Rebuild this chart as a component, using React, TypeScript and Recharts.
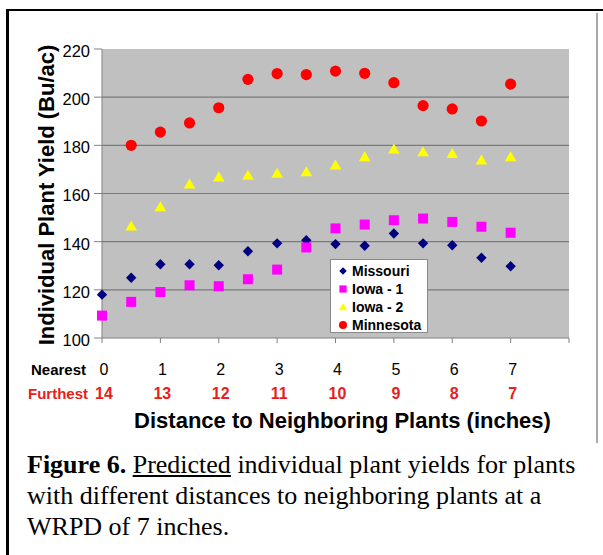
import React from 'react';
import { ScatterChart, Scatter, XAxis, YAxis, CartesianGrid } from 'recharts';

const xMissouri = [0, 0.5, 1, 1.5, 2, 2.5, 3, 3.5, 4, 4.5, 5, 5.5, 6, 6.5, 7];
const missouri = [118, 125, 130.6, 130.6, 130.2, 136, 139.3, 140.6, 139, 138.3, 143.4, 139.3, 138.5, 133.3, 129.8];
const xIowa1 = [0, 0.5, 1, 1.5, 2, 2.5, 3, 3.5, 4, 4.5, 5, 5.5, 6, 6.5, 7];
const iowa1 = [109.3, 115, 119.1, 121.9, 121.5, 124.4, 128.4, 137.6, 145.5, 147.1, 148.9, 149.6, 148.2, 146.2, 143.7];
const xIowa2 = [0.5, 1, 1.5, 2, 2.5, 3, 3.5, 4, 4.5, 5, 5.5, 6, 6.5, 7];
const iowa2 = [146.5, 154.5, 163.9, 166.9, 167.6, 168.4, 169.0, 171.8, 175.3, 178.5, 177.3, 176.6, 173.9, 175.3];
const xMinnesota = [0.5, 1, 1.5, 2, 2.5, 3, 3.5, 4, 4.5, 5, 5.5, 6, 6.5, 7];
const minnesota = [180, 185.5, 189.3, 195.6, 207.4, 209.8, 209.4, 210.8, 209.9, 206, 196.5, 195.1, 190.1, 205.4];

const seriesNames = ['Missouri', 'Iowa - 1', 'Iowa - 2', 'Minnesota'];
const seriesColors = ['#000080', '#FF00FF', '#FFFF00', '#FF0000'];

const xTicks = [0, 1, 2, 3, 4, 5, 6, 7, 8];
const nearestLabels = ['0', '1', '2', '3', '4', '5', '6', '7'];
const furthestLabels = ['14', '13', '12', '11', '10', '9', '8', '7'];
const yTicks = [100, 120, 140, 160, 180, 200, 220];
const gridValues = [120, 140, 160, 180, 200];

const toPoints = (xs: number[], ys: number[]) => xs.map((x, i) => ({ x, y: ys[i] }));

const FONT = 'Arial, "Liberation Sans", sans-serif';
const AXIS = '#808080';
const RED = '#E8201C';

const Diamond = (p: any) => {
  const { cx, cy, fill, k = 1 } = p;
  const r = 5.2 * k;
  return <path d={`M${cx},${cy - r}L${cx + r},${cy}L${cx},${cy + r}L${cx - r},${cy}Z`} fill={fill} />;
};
const Square = (p: any) => {
  const { cx, cy, fill, k = 1 } = p;
  const s = 5 * k;
  return <rect x={cx - s} y={cy - s} width={2 * s} height={2 * s} fill={fill} />;
};
const Triangle = (p: any) => {
  const { cx, cy, fill, k = 1 } = p;
  return <path d={`M${cx},${cy - 5.5 * k}L${cx + 5.8 * k},${cy + 4.5 * k}L${cx - 5.8 * k},${cy + 4.5 * k}Z`} fill={fill} />;
};
const Circle = (p: any) => {
  const { cx, cy, fill, k = 1 } = p;
  return <circle cx={cx} cy={cy} r={5.6 * k} fill={fill} />;
};
const shapes = [Diamond, Square, Triangle, Circle];

const XTick = (props: any) => {
  const { x, y, payload, index } = props;
  const i = payload && typeof payload.index === 'number' ? payload.index : index;
  if (i >= nearestLabels.length) return null;
  return (
    <g>
      {i === 0 && (
        <>
          <text x={x - 16} y={y + 32} textAnchor="end" fontFamily={FONT} fontSize={15} fontWeight="bold" fill="#000">Nearest</text>
          <text x={x - 14} y={y + 56} textAnchor="end" fontFamily={FONT} fontSize={15} fontWeight="bold" fill={RED}>Furthest</text>
        </>
      )}
      <text x={x + 2} y={y + 32} textAnchor="middle" fontFamily={FONT} fontSize={16} fill="#000">{nearestLabels[i]}</text>
      <text x={x + 2} y={y + 56} textAnchor="middle" fontFamily={FONT} fontSize={16} fontWeight="bold" fill={RED}>{furthestLabels[i]}</text>
    </g>
  );
};

const LegendBox = () => (
  <div style={{ width: 96, height: 70, background: '#fff', border: '1px solid #8a8a8a', paddingTop: 2 }}>
    {seriesNames.map((n, i) => {
      const S = shapes[i];
      return (
        <div key={n} style={{ height: 18, display: 'flex', alignItems: 'center' }}>
          <svg width={21} height={18} style={{ display: 'block' }}>
            <S cx={12} cy={9} fill={seriesColors[i]} k={0.72} />
          </svg>
          <span style={{ fontFamily: FONT, fontSize: 14, fontWeight: 'bold', color: '#000', whiteSpace: 'nowrap' }}>{n}</span>
        </div>
      );
    })}
  </div>
);

export default function App() {
  const datasets = [
    toPoints(xMissouri, missouri),
    toPoints(xIowa1, iowa1),
    toPoints(xIowa2, iowa2),
    toPoints(xMinnesota, minnesota),
  ];
  return (
    <div style={{ position: 'absolute', left: 0, top: 0, width: 603, height: 555, background: '#fff', overflow: 'hidden' }}>
      <div style={{ position: 'absolute', left: 6, top: 9, width: 700, height: 700, borderLeft: '3px solid #000', borderTop: '2px solid #000' }} />
      <div style={{ position: 'absolute', left: 596, top: 13, width: 2, height: 430, background: '#a8a8a8' }} />
      <div style={{ position: 'absolute', left: 0, top: 0 }}>
        <ScatterChart width={603} height={445} margin={{ top: 49, right: 34, left: 0, bottom: 0 }}>
          <CartesianGrid horizontal vertical={false} fill="#C0C0C0" stroke="#7a7a7a" strokeWidth={1.2} horizontalValues={gridValues} />
          <XAxis
            type="number"
            dataKey="x"
            domain={[0, 8]}
            ticks={xTicks}
            interval={0}
            height={107}
            stroke={AXIS}
            tickSize={5}
            tickMargin={0}
            tick={<XTick />}
            label={(lp: any) => {
              const vb = lp.viewBox || { x: 102, width: 467, y: 338 };
              return (
                <text x={vb.x + vb.width / 2 + 7} y={428} textAnchor="middle" fontFamily={FONT} fontSize={22} fontWeight="bold" fill="#000">
                  Distance to Neighboring Plants (inches)
                </text>
              );
            }}
          />
          <YAxis
            type="number"
            dataKey="y"
            domain={[100, 220]}
            ticks={yTicks}
            interval={0}
            width={102}
            stroke={AXIS}
            tickSize={8}
            tickMargin={4}
            tick={{ fontFamily: FONT, fontSize: 16.5, fill: '#000', dy: 2 }}
            label={() => (
              <text x={54} y={195} transform="rotate(-90, 54, 195)" textAnchor="middle" fontFamily={FONT} fontSize={22} fontWeight="bold" fill="#000">
                Individual Plant Yield (Bu/ac)
              </text>
            )}
          />
          {datasets.map((d, i) => (
            <Scatter
              key={seriesNames[i]}
              name={seriesNames[i]}
              data={d}
              fill={seriesColors[i]}
              shape={shapes[i]}
              isAnimationActive={false}
            />
          ))}
        </ScatterChart>
      </div>
      <div style={{ position: 'absolute', left: 330, top: 259 }}>
        <LegendBox />
      </div>
      <div
        style={{
          position: 'absolute',
          left: 27,
          top: 449,
          fontFamily: '"Liberation Serif", "Times New Roman", serif',
          fontSize: 26,
          lineHeight: '31px',
          color: '#000',
          whiteSpace: 'nowrap',
        }}
      >
        <div>
          <b>Figure 6.</b> <u>Predicted</u> individual plant yields for plants
        </div>
        <div>with different distances to neighboring plants at a</div>
        <div>WRPD of 7 inches.</div>
      </div>
    </div>
  );
}
